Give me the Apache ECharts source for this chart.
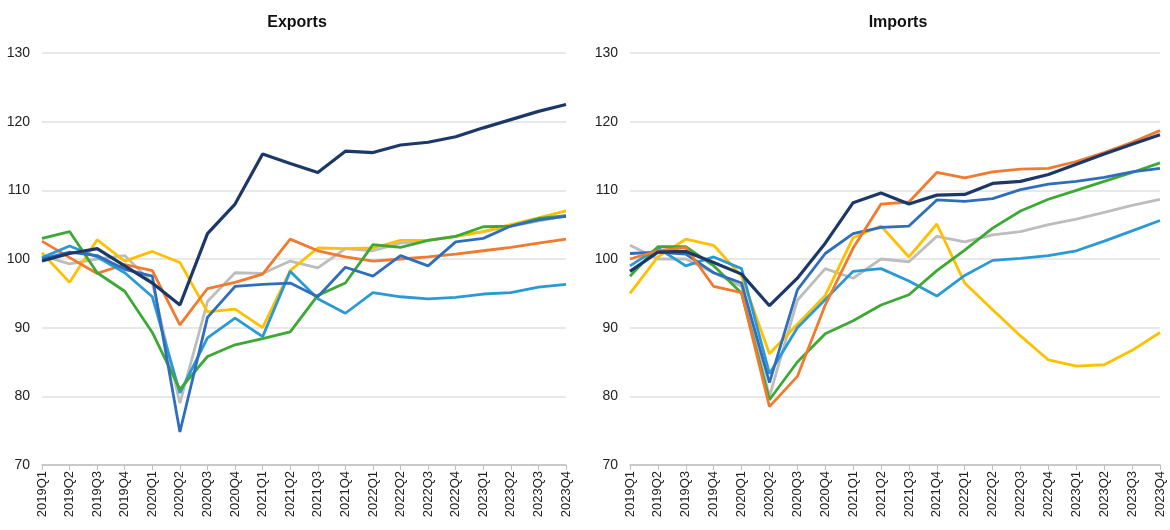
<!DOCTYPE html>
<html>
<head>
<meta charset="utf-8">
<script src="https://cdn.jsdelivr.net/npm/echarts@6/dist/echarts.min.js"></script>
<style>
html,body{margin:0;padding:0;background:#fff;}
#c{width:1170px;height:530px;}
</style>
</head>
<body>
<div id="c"></div>
<script>
const categories = ["2019Q1","2019Q2","2019Q3","2019Q4","2020Q1","2020Q2","2020Q3","2020Q4","2021Q1","2021Q2","2021Q3","2021Q4","2022Q1","2022Q2","2022Q3","2022Q4","2023Q1","2023Q2","2023Q3","2023Q4"];
const yTicks = [70, 80, 90, 100, 110, 120, 130];

// Exports
const expNavy = [99.7,100.8,101.5,99.0,96.5,93.3,103.7,108.0,115.3,113.9,112.6,115.7,115.5,116.6,117.0,117.8,119.1,120.3,121.5,122.5];
const expBlue = [100.0,101.0,100.5,98.5,97.5,74.8,91.5,96.0,96.3,96.5,94.5,98.8,97.5,100.5,99.0,102.5,103.0,104.8,105.7,106.2];
const expOrange = [102.6,100.2,97.9,99.2,98.3,90.4,95.7,96.6,97.8,102.9,101.2,100.3,99.7,100.0,100.3,100.7,101.2,101.7,102.3,102.9];
const expGrey = [100.5,99.3,100.0,100.5,96.5,79.0,93.8,98.0,97.9,99.7,98.7,101.5,101.2,102.3,102.7,103.3,104.0,104.8,105.5,106.3];
const expYellow = [100.9,96.6,102.8,99.7,101.1,99.5,92.3,92.7,90.0,98.3,101.6,101.5,101.6,102.7,102.7,103.3,104.0,105.0,106.0,107.0];
const expGreen = [103.0,104.0,98.0,95.3,89.3,81.0,85.8,87.5,88.4,89.4,94.7,96.5,102.1,101.7,102.7,103.3,104.7,104.8,105.9,106.3];
const expLight = [100.2,101.9,100.3,98.0,94.5,80.5,88.5,91.4,88.7,98.2,94.2,92.1,95.1,94.5,94.2,94.4,94.9,95.1,95.9,96.3];

// Imports
const impNavy = [98.2,101.0,101.1,99.5,97.8,93.2,97.2,102.3,108.2,109.6,108.0,109.3,109.4,111.0,111.3,112.3,113.8,115.3,116.7,118.1];
const impBlue = [100.8,101.0,100.7,98.0,96.5,82.0,95.5,100.8,103.7,104.6,104.8,108.6,108.4,108.8,110.1,110.9,111.3,111.9,112.7,113.2];
const impOrange = [100.0,101.2,101.7,96.0,95.1,78.5,82.9,93.3,101.6,108.0,108.3,112.6,111.8,112.7,113.1,113.2,114.2,115.5,117.0,118.7];
const impGrey = [102.0,100.0,100.0,98.0,96.0,80.0,94.0,98.6,97.2,100.0,99.6,103.3,102.5,103.5,104.0,105.0,105.8,106.8,107.8,108.7];
const impYellow = [95.0,100.3,102.9,102.0,97.5,86.2,90.5,94.7,103.1,104.8,100.3,105.1,96.5,92.6,88.8,85.3,84.4,84.6,86.7,89.3];
const impGreen = [97.5,101.8,101.8,99.0,95.0,79.5,85.0,89.1,91.0,93.3,94.8,98.3,101.3,104.5,107.0,108.7,110.0,111.3,112.6,114.0];
const impLight = [99.0,101.6,99.0,100.3,98.6,83.3,90.0,94.1,98.2,98.6,96.8,94.6,97.6,99.8,100.1,100.5,101.2,102.6,104.1,105.6];

const colors = {
  navy: '#1C3868', blue: '#2E6EBD', orange: '#F27A2E', grey: '#BDBDBD',
  yellow: '#FFC000', green: '#3DA935', light: '#2A9AD6'
};

const expSeries = [
  ['grey', expGrey], ['yellow', expYellow], ['orange', expOrange], ['light', expLight],
  ['green', expGreen], ['blue', expBlue], ['navy', expNavy]
];
const impSeries = [
  ['grey', impGrey], ['yellow', impYellow], ['light', impLight], ['green', impGreen],
  ['blue', impBlue], ['orange', impOrange], ['navy', impNavy]
];

const font = 'Liberation Sans, Arial, sans-serif';

function xAxis(i) {
  return {
    type: 'category', gridIndex: i, data: categories, boundaryGap: false,
    axisLine: { lineStyle: { color: '#BFBFBF', width: 1.5 } },
    axisTick: { show: true, alignWithLabel: true, length: 5, lineStyle: { color: '#BFBFBF' } },
    axisLabel: { rotate: 90, fontSize: 13, color: '#222', fontFamily: font, margin: 6, interval: 0 }
  };
}
function yAxis(i) {
  return {
    type: 'value', gridIndex: i, min: yTicks[0], max: yTicks[yTicks.length - 1], interval: 10,
    axisLine: { show: false }, axisTick: { show: false },
    splitLine: { lineStyle: { color: '#E0E0E0', width: 1.5 } },
    axisLabel: { fontSize: 14, color: '#222', fontFamily: font, margin: 12 }
  };
}
function mk(list, idx) {
  return list.map(([c, d]) => ({
    type: 'line', xAxisIndex: idx, yAxisIndex: idx, data: d, symbol: 'none',
    lineStyle: { color: colors[c], width: c === 'navy' ? 3.2 : 2.8 },
    itemStyle: { color: colors[c] }, animation: false
  }));
}

const chart = echarts.init(document.getElementById('c'));
chart.setOption({
  animation: false,
  title: [
    { text: 'Exports', left: 292, top: 10, textAlign: 'center',
      textStyle: { fontSize: 16, fontWeight: 'bold', color: '#111', fontFamily: font } },
    { text: 'Imports', left: 893, top: 10, textAlign: 'center',
      textStyle: { fontSize: 16, fontWeight: 'bold', color: '#111', fontFamily: font } }
  ],
  grid: [
    { left: 42, right: 604, top: 53, bottom: 65 },
    { left: 630, right: 10, top: 53, bottom: 65 }
  ],
  xAxis: [xAxis(0), xAxis(1)],
  yAxis: [yAxis(0), yAxis(1)],
  series: mk(expSeries, 0).concat(mk(impSeries, 1))
});
</script>
</body>
</html>
